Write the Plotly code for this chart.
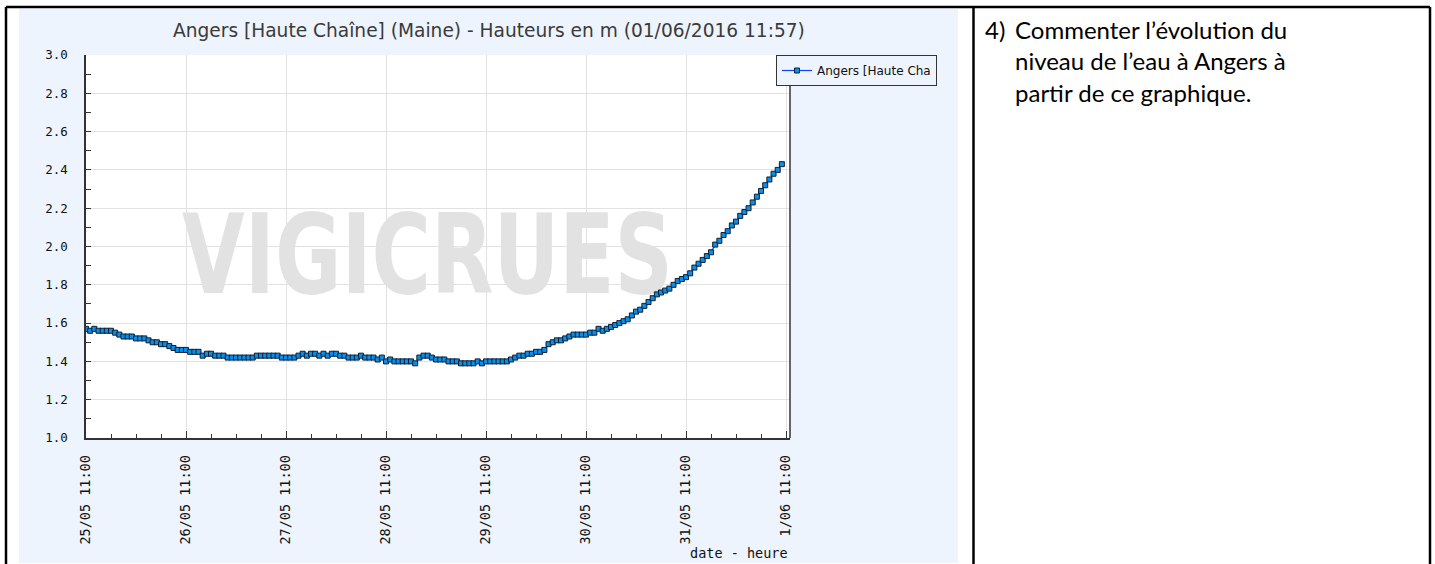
import base64
import pandas as pd
import plotly.graph_objects as go

# ---------------- data (hourly water heights, m) ----------------
start_time = "2016-05-25 11:00"
day_25_05 = [1.57, 1.56, 1.57, 1.56, 1.56, 1.56, 1.56, 1.55, 1.54, 1.53, 1.53, 1.53,
             1.52, 1.52, 1.52, 1.51, 1.50, 1.50, 1.49, 1.49, 1.48, 1.47, 1.46, 1.46]
day_26_05 = [1.46, 1.45, 1.45, 1.45, 1.43, 1.44, 1.44, 1.43, 1.43, 1.43, 1.42, 1.42,
             1.42, 1.42, 1.42, 1.42, 1.42, 1.43, 1.43, 1.43, 1.43, 1.43, 1.43, 1.42]
day_27_05 = [1.42, 1.42, 1.42, 1.43, 1.44, 1.43, 1.44, 1.44, 1.43, 1.44, 1.43, 1.44,
             1.44, 1.43, 1.43, 1.42, 1.42, 1.42, 1.43, 1.42, 1.42, 1.42, 1.41, 1.42]
day_28_05 = [1.40, 1.41, 1.40, 1.40, 1.40, 1.40, 1.40, 1.39, 1.42, 1.43, 1.43, 1.42,
             1.41, 1.41, 1.41, 1.40, 1.40, 1.40, 1.39, 1.39, 1.39, 1.39, 1.40, 1.39]
day_29_05 = [1.40, 1.40, 1.40, 1.40, 1.40, 1.40, 1.41, 1.42, 1.43, 1.43, 1.44, 1.44,
             1.45, 1.45, 1.46, 1.49, 1.50, 1.51, 1.51, 1.52, 1.53, 1.54, 1.54, 1.54]
day_30_05 = [1.54, 1.55, 1.55, 1.57, 1.56, 1.57, 1.58, 1.59, 1.60, 1.61, 1.62, 1.64,
             1.66, 1.67, 1.69, 1.71, 1.73, 1.75, 1.76, 1.77, 1.78, 1.80, 1.82, 1.83]
day_31_05 = [1.84, 1.86, 1.89, 1.91, 1.93, 1.95, 1.97, 2.01, 2.03, 2.06, 2.08, 2.11,
             2.13, 2.16, 2.18, 2.20, 2.23, 2.26, 2.29, 2.32, 2.35, 2.38, 2.40, 2.43]

x_tick_vals = ["2016-05-25 11:00", "2016-05-26 11:00", "2016-05-27 11:00", "2016-05-28 11:00",
               "2016-05-29 11:00", "2016-05-30 11:00", "2016-05-31 11:00", "2016-06-01 11:00"]
x_tick_text = ["25/05 11:00", "26/05 11:00", "27/05 11:00", "28/05 11:00",
               "29/05 11:00", "30/05 11:00", "31/05 11:00", "1/06 11:00"]
y_tick_vals = [1.0, 1.2, 1.4, 1.6, 1.8, 2.0, 2.2, 2.4, 2.6, 2.8, 3.0]
y_tick_text = ["1.0", "1.2", "1.4", "1.6", "1.8", "2.0", "2.2", "2.4", "2.6", "2.8", "3.0"]

series_name = "Angers [Haute Cha"
chart_title = "Angers [Haute Chaîne] (Maine) - Hauteurs en m (01/06/2016 11:57)"
x_title = "date - heure"
watermark = "VIGICRUES"
heading_cut = "graphique"
question_num = "4)"
question_lines = ["Commenter l\u2019évolution du", "niveau de l\u2019eau à Angers à",
                  "partir de ce graphique."]

heights = day_25_05 + day_26_05 + day_27_05 + day_28_05 + day_29_05 + day_30_05 + day_31_05
times = pd.date_range(start_time, periods=len(heights), freq="h")

# ---------------- layout geometry (pixels) ----------------
W, H = 1435, 564
L, R, T, B = 86, 790, 55, 438


def px(x):
    return (x - L) / (R - L)


def py(y):
    return (B - y) / (B - T)


BG = "#eef4fd"
MONO = "DejaVu Sans Mono, monospace"

fig = go.Figure()
fig.add_trace(go.Scatter(
    x=times, y=heights, name=series_name, mode="lines+markers",
    line=dict(color="#1040ff", width=1.2),
    marker=dict(symbol="square", size=5, color="#0a8ee8",
                line=dict(color="#0d1f33", width=1)),
    showlegend=True,
))

shapes = []
# white document areas around the chart image
for (x0, y0, x1, y1) in [(0, 0, 19, H), (0, 0, W, 9), (958, 0, W, H), (0, 563, W, H)]:
    shapes.append(dict(type="rect", xref="paper", yref="paper", layer="below",
                       x0=px(x0), x1=px(x1), y0=py(y0), y1=py(y1),
                       fillcolor="white", line=dict(width=0)))
# right frame line of the plot
shapes.append(dict(type="line", xref="paper", yref="paper", x0=1, x1=1, y0=0, y1=1,
                   line=dict(color="#333333", width=1.5)))
# table borders
for (x0, y0, x1, y1) in [(6, 7, 1430, 7), (6, 7, 6, H), (973.5, 7, 973.5, H), (1430, 7, 1430, H)]:
    shapes.append(dict(type="line", xref="paper", yref="paper",
                       x0=px(x0), x1=px(x1), y0=py(y0), y1=py(y1),
                       line=dict(color="black", width=2.5)))

# watermark as an svg image (text stretched to the logo width)
wm_w, wm_h = 491, 100
wm_svg = (
    f'<svg xmlns="http://www.w3.org/2000/svg" width="{wm_w}" height="{wm_h}" '
    f'viewBox="0 0 {wm_w} {wm_h}">'
    f'<text x="0" y="93" font-family="DejaVu Sans" font-weight="bold" font-size="110" '
    f'fill="#e2e2e2" textLength="{wm_w}" lengthAdjust="spacingAndGlyphs">{watermark}</text></svg>'
)
wm_src = "data:image/svg+xml;base64," + base64.b64encode(wm_svg.encode("utf-8")).decode("ascii")
images = [dict(source=wm_src, xref="paper", yref="paper", x=px(182), y=py(200),
               sizex=px(182 + wm_w) - px(182), sizey=py(200) - py(200 + wm_h),
               xanchor="left", yanchor="top", sizing="stretch", layer="below")]

annotations = [
    dict(text=chart_title, xref="paper", yref="paper", x=px(488.5), y=py(30),
         xanchor="center", yanchor="middle", showarrow=False, borderpad=0,
         font=dict(family="DejaVu Sans", size=18.6, color="#3a3a3a")),
    dict(text=x_title, xref="paper", yref="paper", x=px(789), y=py(553),
         xanchor="right", yanchor="middle", showarrow=False, borderpad=0,
         font=dict(family=MONO, size=13.5, color="#111111")),
    dict(text=heading_cut, xref="paper", yref="paper", x=px(256), y=py(-17),
         xanchor="left", yanchor="middle", showarrow=False, borderpad=0,
         font=dict(family="Lato", size=28, color="black", weight="bold")),
    dict(text=question_num, xref="paper", yref="paper", x=px(984), y=py(29),
         xanchor="left", yanchor="middle", showarrow=False, borderpad=0,
         font=dict(family="Lato", size=24, color="black")),
]
for i, line in enumerate(question_lines):
    annotations.append(dict(text=line, xref="paper", yref="paper", x=px(1014), y=py(29 + 31.5 * i),
                            xanchor="left", yanchor="middle", showarrow=False, borderpad=0,
                            font=dict(family="Lato", size=24, color="black")))

fig.update_layout(
    width=W, height=H, autosize=False,
    margin=dict(l=L, r=W - R, t=T, b=H - B, pad=0),
    paper_bgcolor=BG, plot_bgcolor="white",
    shapes=shapes, annotations=annotations, images=images,
    legend=dict(x=px(776), y=1.0, xanchor="left", yanchor="top",
                bgcolor=BG, bordercolor="#333333", borderwidth=1,
                font=dict(family="DejaVu Sans", size=12, color="#111111"),
                itemwidth=30, tracegroupgap=0),
    xaxis=dict(
        type="date", range=["2016-05-25 11:00", "2016-06-01 11:57"],
        tickmode="array", tickvals=x_tick_vals, ticktext=x_tick_text,
        tickangle=-90, tickfont=dict(family=MONO, size=13.5, color="#111111"),
        ticks="inside", ticklen=7, tickcolor="#333333", tickwidth=1.2,
        ticklabelstandoff=10,
        showline=True, linecolor="#333333", linewidth=1.5,
        showgrid=True, gridcolor="#e2e2e2", gridwidth=1, zeroline=False,
        minor=dict(dtick=6 * 3600 * 1000, tick0="2016-05-25 11:00", ticks="inside",
                   ticklen=4, tickcolor="#333333", tickwidth=1, showgrid=False),
        fixedrange=True,
    ),
    yaxis=dict(
        range=[1.0, 3.0], tickmode="array", tickvals=y_tick_vals, ticktext=y_tick_text,
        tickfont=dict(family=MONO, size=12.5, color="#111111"),
        ticks="inside", ticklen=5, tickcolor="#333333", tickwidth=1.2,
        ticklabelstandoff=14,
        showline=True, linecolor="#333333", linewidth=1.5,
        showgrid=True, gridcolor="#e2e2e2", gridwidth=1, zeroline=False,
        minor=dict(dtick=0.1, tick0=1.0, ticks="inside", ticklen=5,
                   tickcolor="#333333", tickwidth=1, showgrid=False),
        fixedrange=True,
    ),
)

fig.write_html("out.html", config={"displayModeBar": False},
               post_script="document.body.style.margin='0px';"
                           "document.documentElement.style.overflow='hidden';")
